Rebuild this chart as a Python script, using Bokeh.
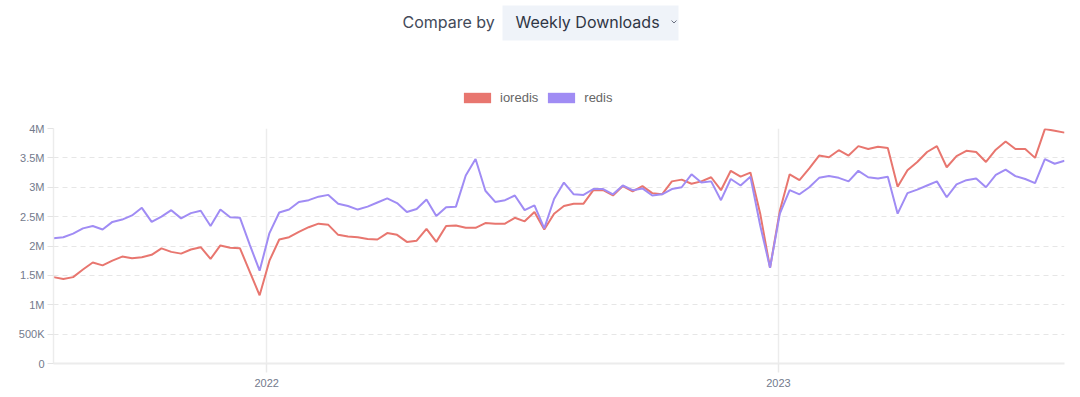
import pandas as pd
from bokeh.plotting import figure
from bokeh.models import (Range1d, FixedTicker, Legend, LegendItem, ColumnDataSource)
from bokeh.layouts import column
from bokeh.core.properties import value
from bokeh.embed import file_html
from bokeh.resources import INLINE

# ---------------- data ----------------
first_week = "2021-08-02"
series_names = ["ioredis", "redis"]
series_colors = ["#e8766f", "#a08cf4"]

ioredis_m = [1.47, 1.44, 1.47, 1.60, 1.72, 1.67, 1.75, 1.82, 1.79, 1.81,
             1.85, 1.96, 1.90, 1.87, 1.94, 1.98, 1.78, 2.01, 1.97, 1.96,
             1.56, 1.16, 1.75, 2.11, 2.15, 2.24, 2.32, 2.38, 2.36, 2.19,
             2.16, 2.15, 2.12, 2.11, 2.22, 2.19, 2.07, 2.09, 2.29, 2.07,
             2.34, 2.35, 2.31, 2.31, 2.39, 2.38, 2.38, 2.48, 2.42, 2.58,
             2.28, 2.55, 2.68, 2.72, 2.72, 2.95, 2.95, 2.86, 3.02, 2.93,
             3.02, 2.90, 2.88, 3.10, 3.13, 3.06, 3.10, 3.17, 2.95, 3.28,
             3.18, 3.25, 2.55, 1.63, 2.60, 3.22, 3.12, 3.32, 3.54, 3.51,
             3.63, 3.54, 3.70, 3.65, 3.69, 3.67, 3.01, 3.29, 3.43, 3.60,
             3.70, 3.34, 3.53, 3.62, 3.60, 3.43, 3.64, 3.78, 3.65, 3.65,
             3.50, 3.99, 3.96, 3.93]

redis_m = [2.13, 2.15, 2.21, 2.30, 2.34, 2.28, 2.41, 2.45, 2.52, 2.65,
           2.41, 2.50, 2.61, 2.47, 2.56, 2.60, 2.34, 2.62, 2.49, 2.48,
           2.02, 1.58, 2.22, 2.57, 2.62, 2.75, 2.78, 2.84, 2.87, 2.72,
           2.68, 2.62, 2.67, 2.74, 2.81, 2.73, 2.58, 2.63, 2.79, 2.51,
           2.66, 2.67, 3.20, 3.48, 2.94, 2.75, 2.78, 2.86, 2.61, 2.69,
           2.30, 2.80, 3.08, 2.88, 2.87, 2.97, 2.97, 2.88, 3.03, 2.95,
           2.98, 2.86, 2.88, 2.97, 3.00, 3.22, 3.08, 3.10, 2.78, 3.14,
           3.03, 3.18, 2.35, 1.63, 2.55, 2.95, 2.88, 3.00, 3.16, 3.19,
           3.16, 3.10, 3.28, 3.17, 3.15, 3.18, 2.55, 2.90, 2.96, 3.03,
           3.10, 2.83, 3.05, 3.12, 3.15, 3.00, 3.21, 3.30, 3.19, 3.14,
           3.07, 3.48, 3.40, 3.45]

y_ticks = [0, 500000, 1000000, 1500000, 2000000, 2500000, 3000000, 3500000, 4000000]
y_tick_labels = ["0", "500K", "1M", "1.5M", "2M", "2.5M", "3M", "3.5M", "4M"]
x_tick_dates = ["2022-01-01", "2023-01-01"]
x_tick_labels = ["2022", "2023"]

header_text = "Compare by"
select_text = "Weekly Downloads"

# ---------------- build ----------------
weeks = pd.date_range(first_week, periods=len(ioredis_m), freq="7D")
src = ColumnDataSource(dict(
    date=weeks,
    ioredis=[v * 1e6 for v in ioredis_m],
    redis=[v * 1e6 for v in redis_m],
))

W = 1080
H = 397
HEAD_H = 112
BL, BR = 53, 16          # frame left / right borders (shared by both figures)

# header figure: data units == page pixels, y downward
head = figure(width=W, height=HEAD_H, output_backend="svg", toolbar_location=None,
              x_range=Range1d(BL, W - BR), y_range=Range1d(HEAD_H, 0),
              x_axis_location=None, y_axis_location=None,
              min_border_left=BL, min_border_right=BR,
              min_border_top=0, min_border_bottom=0, outline_line_color=None)
head.grid.visible = False

head.text(x=[402], y=[21], text=[header_text], text_font=value("Inter"),
          text_font_size="16px", text_color="#434a59",
          text_baseline="middle", text_align="left")
head.quad(left=[502], right=[678], top=[5], bottom=[40],
          fill_color="#eff3f9", line_color=None)
head.text(x=[515], y=[21], text=[select_text], text_font=value("Inter"),
          text_font_size="16px", text_color="#2f3645",
          text_baseline="middle", text_align="left")
head.line(x=[671, 673.5, 676], y=[20, 22.5, 20], line_color="#6a7080", line_width=1)

legend_items = []
for name, col in zip(series_names, series_colors):
    # swatch renderer kept outside the visible range; only its legend glyph shows
    r = head.quad(left=[0], right=[1], top=[-20], bottom=[-10],
                  fill_color=col, line_color=None)
    legend_items.append(LegendItem(label=name, renderers=[r]))
leg = Legend(items=legend_items, orientation="horizontal", location=(407, 7),
             glyph_width=34, glyph_height=13, label_height=13,
             label_text_font="Liberation Sans", label_text_font_size="13px",
             label_text_color="#666666", label_standoff=6, spacing=6,
             padding=0, margin=0, border_line_color=None, background_fill_alpha=0)
head.add_layout(leg, "center")

# main chart
p = figure(width=W, height=H - HEAD_H, output_backend="svg", toolbar_location=None,
           x_axis_type="datetime",
           x_range=Range1d(weeks[0], weeks[-1]), y_range=Range1d(0, 4000000),
           min_border_left=BL, min_border_right=BR, min_border_top=128 - HEAD_H,
           min_border_bottom=34, outline_line_color=None)

for name, col in zip(series_names, series_colors):
    p.line(x="date", y=name, source=src, line_color=col, line_width=2)

tick_ms = [pd.Timestamp(d).value / 1e6 for d in x_tick_dates]
p.xaxis.ticker = FixedTicker(ticks=tick_ms)
p.xaxis.major_label_overrides = {t: l for t, l in zip(tick_ms, x_tick_labels)}
p.xaxis.minor_tick_line_color = None
p.xaxis.major_tick_out = 9
p.xaxis.major_tick_in = 0
p.xaxis.major_tick_line_color = "#e9e9e9"
p.xaxis.major_tick_line_width = 1.5
p.xaxis.axis_line_color = "#ececec"
p.xaxis.axis_line_width = 2
p.xaxis.major_label_standoff = 6
p.xaxis.major_label_text_font = "Liberation Sans"
p.xaxis.major_label_text_font_size = "11px"
p.xaxis.major_label_text_color = "#737a8c"

p.yaxis.ticker = FixedTicker(ticks=y_ticks)
p.yaxis.major_label_overrides = {t: l for t, l in zip(y_ticks, y_tick_labels)}
p.yaxis.minor_tick_line_color = None
p.yaxis.major_tick_out = 6
p.yaxis.major_tick_in = 0
p.yaxis.major_tick_line_color = "#e3e3e3"
p.yaxis.axis_line_color = "#ececec"
p.yaxis.axis_line_width = 1.5
p.yaxis.major_label_standoff = 3
p.yaxis.major_label_text_font = "Liberation Sans"
p.yaxis.major_label_text_font_size = "11px"
p.yaxis.major_label_text_color = "#737a8c"

p.ygrid.grid_line_color = "#e6e6e6"
p.ygrid.grid_line_dash = "5 4"
p.ygrid.grid_line_width = 1
p.xgrid.grid_line_color = "#ececec"
p.xgrid.grid_line_width = 1.5

layout = column(head, p, spacing=0)
open("out.html", "w").write(file_html(layout, INLINE))
